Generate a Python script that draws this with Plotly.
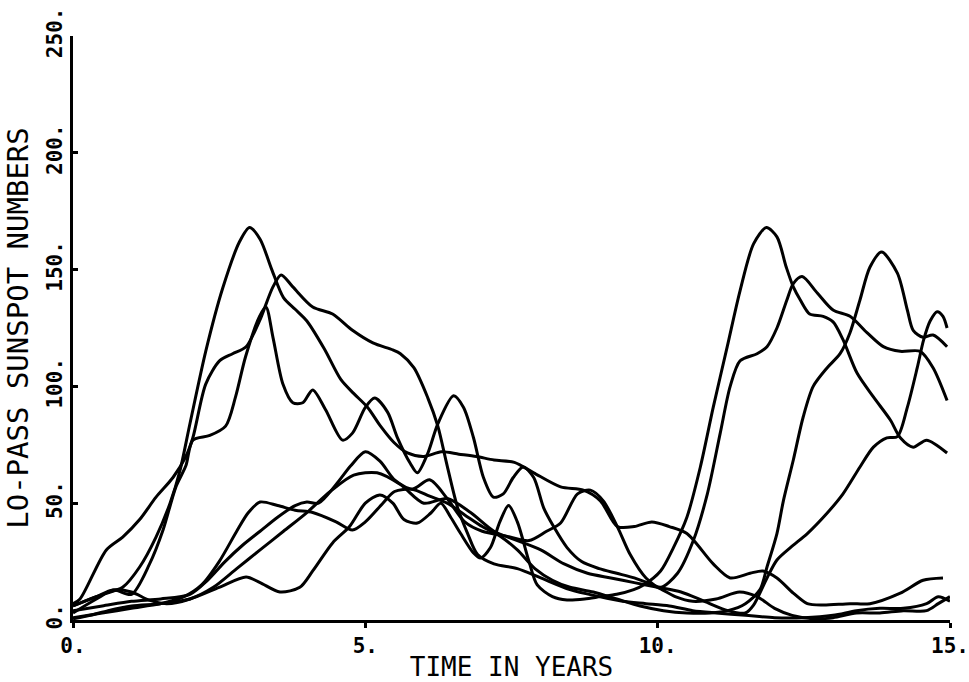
import plotly.graph_objects as go

# ---- data ----
x_ticks = [0, 5, 10, 15]
x_tick_text = ["0.", "5.", "10.", "15."]
y_ticks = [0, 50, 100, 150, 200, 250]
y_tick_text = ["0.", "50.", "100.", "150.", "200.", "250."]

a_x = [0, 0.4, 0.7, 0.85, 1.14, 1.42, 1.66, 1.83, 2.0, 2.27, 2.56, 2.85, 3.02, 3.2, 3.4, 3.6, 3.8,
       4.0, 4.3, 4.58, 4.8, 5.04, 5.26, 5.49, 5.72, 6.0, 6.3, 6.6, 6.9, 7.2, 7.55, 7.88, 8.34,
       8.73, 9.02, 9.31, 9.6, 9.9, 10.2, 10.5, 10.95, 11.24, 11.58, 11.8, 12.04, 12.32, 12.56,
       12.83, 13.29, 13.63, 14.15, 14.54, 14.88]
a_y = [6, 10, 12.5, 14, 22.7, 35.5, 50, 64, 84, 115, 142, 162, 168, 163, 150, 138, 133,
       128, 116, 103, 97, 91, 83, 76, 71.5, 70, 72, 71, 70, 68.5, 67.5, 63, 57,
       55.6, 51, 40, 40, 42, 40, 37, 24, 18, 20, 21, 18, 11.5, 7,
       6.4, 7, 7, 11.5, 17, 18]

b_x = [0, 0.12, 0.57, 0.85, 1.14, 1.42, 1.71, 1.93, 2.05, 2.27, 2.51, 2.73, 2.96, 3.19, 3.42,
       3.56, 3.76, 4.1, 4.44, 4.78, 5.13, 5.47, 5.6, 5.83, 6.07, 6.24, 6.4, 6.58, 6.75, 6.92,
       7.2, 7.6, 8.0, 8.5, 9.0, 9.4, 9.8, 10.2, 10.6, 11.0, 11.5, 12.0, 12.5, 13.0, 13.4, 13.8,
       14.2, 14.6, 14.8, 15]
b_y = [7, 9, 30, 35.5, 43, 52.6, 61, 70, 78, 101, 111, 114, 117, 128, 142.6,
       147.7, 142.6, 134, 131, 124, 118.6, 115.6, 114, 108, 95, 83, 66, 48, 37, 28,
       24, 22, 18, 13, 10, 8, 7, 6, 4, 3, 2, 1, 1, 2, 4, 5,
       5, 7, 10, 8]

c_x = [0, 0.4, 0.7, 1.0, 1.31, 1.54, 1.76, 1.93, 2.05, 2.34, 2.61, 2.78, 2.95, 3.19, 3.3, 3.42,
       3.59, 3.76, 3.93, 4.1, 4.32, 4.61, 4.78, 5.0, 5.16, 5.38, 5.55, 5.77, 5.89, 6.07, 6.24,
       6.51, 6.68, 6.85, 7.02, 7.19, 7.36, 7.53, 7.7, 7.88, 8.05, 8.22, 8.45, 8.7, 9.0, 9.3,
       9.6, 10.0, 10.3, 10.6, 11.0, 11.4, 11.7, 12.0, 12.3, 12.7, 13.0, 13.4, 13.8, 14.2, 14.6,
       14.8, 15]
c_y = [3, 9, 12.8, 11, 24, 38.5, 57, 66, 77, 79, 83, 95.5, 112.6, 130, 134, 121,
       101, 93, 93, 98.5, 90, 77, 80, 91, 95, 89, 78, 67, 63, 71.5, 84,
       96, 91, 78, 61, 52.6, 54, 61, 65.5, 61, 48, 40, 31, 25, 22, 20,
       18, 14, 10, 8, 9, 12, 10, 5, 2, 0.5, 1, 3, 3, 4, 4,
       7, 10]

d_x = [0, 0.5, 1.0, 1.5, 2.0, 2.3, 2.6, 2.9, 3.2, 3.5, 3.8, 4.0, 4.2, 4.5, 4.75, 5.0, 5.25,
       5.5, 5.8, 6.1, 6.4, 6.7, 7.0, 7.4, 7.8, 8.1, 8.34, 8.63, 8.85, 9.07, 9.31, 9.53, 9.8,
       10.05, 10.34, 10.61, 10.85, 11.07, 11.24, 11.41, 11.7, 11.87, 12.04, 12.21, 12.32,
       12.47, 12.73, 13.0, 13.29, 13.58, 13.86, 14.15, 14.49, 14.71, 14.95]
d_y = [4, 6, 8, 9, 11, 17, 25, 32, 38, 44, 49, 50.5, 50, 58, 66, 72, 68,
       60, 56, 60, 52, 42, 38, 36, 34, 38, 41.5, 54, 55.6, 51, 40, 28, 18,
       14, 20, 34, 54, 80, 100, 111, 114, 117, 125, 137, 144,
       147, 140, 132.7, 130, 123, 117, 115, 115, 108, 94]

e_x = [0, 0.5, 1.0, 1.5, 1.9, 2.2, 2.5, 2.8, 3.0, 3.2, 3.5, 3.8, 4.1, 4.5, 4.78, 5.0, 5.3,
       5.5, 5.8, 6.1, 6.4, 6.7, 7.0, 7.3, 7.6, 7.9, 8.2, 8.5, 8.9, 9.3, 9.7, 10.1, 10.5, 10.9,
       11.2, 11.5, 11.75, 11.87, 12.04, 12.15, 12.32, 12.49, 12.66, 12.9, 13.12, 13.29, 13.46,
       13.63, 13.83, 14.1, 14.27, 14.37, 14.54, 14.71, 14.95]
e_y = [1, 3, 5, 7, 10, 15, 25, 38, 46, 50.5, 49, 47, 46, 42, 38.5, 42, 50,
       55, 56, 53, 50, 45, 40, 36, 30, 22, 17, 14, 12, 9, 6, 4, 3, 3,
       4, 7, 13, 22.7, 37, 51, 68.5, 87, 100, 108, 114, 123, 137,
       151, 157.5, 148.5, 132.7, 124, 121, 122, 117]

f_x = [0, 0.3, 0.6, 1.0, 1.5, 2.0, 2.5, 2.96, 3.2, 3.54, 3.88, 4.1, 4.44, 4.73, 5.0, 5.25,
       5.47, 5.66, 5.89, 6.12, 6.29, 6.46, 6.63, 6.85, 6.97, 7.14, 7.3, 7.45, 7.6, 7.8, 7.94,
       8.2, 8.45, 8.75, 9.02, 9.3, 9.59, 9.76, 10.05, 10.27, 10.5, 10.73, 10.95, 11.19, 11.41,
       11.64, 11.86, 12.04, 12.2, 12.32, 12.44, 12.6, 12.83, 13.0, 13.17, 13.41, 13.69, 13.98,
       14.15, 14.37, 14.6, 14.95]
f_y = [0.5, 2, 4, 6, 7, 9, 14, 18.4, 16, 12, 14, 21, 33, 40, 50, 53.5,
       50, 43, 41.5, 45.8, 50, 44, 37, 28.7, 26.5, 31, 42, 49, 42, 25, 15,
       10, 8.6, 9, 10, 11, 13, 15, 21, 31, 44, 65.5, 91, 117, 141,
       161, 168, 164, 151, 142.6, 137, 131, 130, 127.6, 120, 105.7, 95.5, 85.6,
       78, 74, 77, 71.5]

g_x = [0, 0.4, 0.68, 1.0, 1.3, 1.6, 2.0, 2.4, 2.8, 3.2, 3.6, 4.0, 4.4, 4.8, 5.2, 5.6, 6.0,
       6.4, 6.8, 7.2, 7.6, 8.0, 8.4, 8.8, 9.2, 9.6, 10.0, 10.4, 10.8, 11.2, 11.5, 11.64, 11.87,
       12.04, 12.27, 12.56, 12.9, 13.17, 13.46, 13.69, 13.92, 14.1, 14.27, 14.44, 14.55, 14.66,
       14.78, 14.88, 14.95]
g_y = [6, 10, 12.8, 12, 8.5, 7, 9, 14, 22, 30, 38, 46, 55, 62, 63, 58, 50,
       52, 46, 38, 34, 30, 24, 20, 18, 16, 14, 12, 8, 4, 3, 6.4, 18,
       25.7, 31, 37, 45.8, 54, 65.5, 74, 78, 78.5, 91, 108, 120, 128,
       132, 130, 125]

series = [(a_x, a_y), (b_x, b_y), (c_x, c_y), (d_x, d_y), (e_x, e_y), (f_x, f_y), (g_x, g_y)]

fig = go.Figure()
for xs, ys in series:
    fig.add_trace(go.Scatter(
        x=xs, y=ys, mode="lines",
        line=dict(color="black", width=3, shape="spline", smoothing=0.8),
        showlegend=False, hoverinfo="skip",
    ))

title_font = dict(family="DejaVu Sans Mono", size=26, color="black")
tick_font = dict(family="DejaVu Sans Mono", size=21, color="black", weight="bold")

fig.update_layout(
    width=969, height=682,
    margin=dict(l=73, r=19, t=36, b=62),
    paper_bgcolor="white", plot_bgcolor="white",
    xaxis=dict(
        range=[0, 15], tickvals=x_ticks, ticktext=x_tick_text,
        showline=True, linecolor="black", linewidth=2.5,
        ticks="outside", ticklen=5, tickwidth=2.5, tickcolor="black",
        showgrid=False, zeroline=False, tickfont=tick_font,
        ticklabelstandoff=0, automargin=False,
        title=dict(text="TIME IN YEARS", font=title_font, standoff=6),
    ),
    yaxis=dict(
        range=[0, 250], tickvals=y_ticks, ticktext=y_tick_text,
        showline=True, linecolor="black", linewidth=2.5,
        ticks="inside", ticklen=5, tickwidth=2.5, tickcolor="black",
        showgrid=False, zeroline=False, tickfont=tick_font, tickangle=-90,
        ticklabelstandoff=0, automargin=False,
        title=dict(text="LO-PASS SUNSPOT NUMBERS",
                   font=dict(family="DejaVu Sans Mono", size=29, color="black"), standoff=6),
    ),
)

fig.write_html("out.html")
